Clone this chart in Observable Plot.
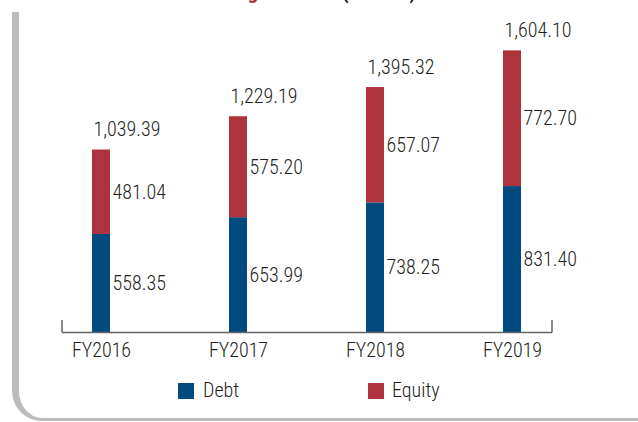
<!DOCTYPE html>
<html>
<head>
<meta charset="utf-8">
<script src="https://cdn.jsdelivr.net/npm/d3@7"></script>
<script src="https://cdn.jsdelivr.net/npm/@observablehq/plot@0.6"></script>
<style>
  html, body { margin: 0; padding: 0; background: #fff; }
  body { width: 638px; height: 422px; position: relative; overflow: hidden;
         font-family: "Roboto Condensed", "Liberation Sans Narrow", "DejaVu Sans Condensed", sans-serif; font-stretch: condensed; font-weight: 300; color: #231f20; }
  #frame { position: absolute; left: 12px; top: 12px; right: -20px; height: 406px;
           border-left: 7px solid #bcbcbc; border-bottom: 3px solid #bcbcbc;
           border-bottom-left-radius: 30px; }
  #title { position: absolute; top: -18px; left: 0; width: 638px; height: 24px;
           font-size: 21px; font-weight: bold; line-height: 21px; white-space: nowrap; }
  #title span { position: absolute; top: 0; }
  #chart { position: absolute; left: 0; top: 0; }
  #legend { position: absolute; left: 0; top: 370px; width: 638px; height: 52px; font-size: 20px; }
  .sw { position: absolute; width: 16px; height: 16px; top: 13px; }
  .lt { position: absolute; top: 9px; line-height: 22px; }
</style>
</head>
<body>
<div id="frame"></div>
<div id="title"><span style="right:380px;color:#ad343c">Funding</span><span style="left:264px;color:#231f20">Pattern</span><span style="left:342px;color:#231f20">(₹ Crore)</span></div>
<div id="chart"></div>
<div id="legend"></div>
<script>
const years = ["FY2016", "FY2017", "FY2018", "FY2019"];
const debt = [558.35, 653.99, 738.25, 831.40];
const equity = [481.04, 575.20, 657.07, 772.70];
const totals = [1039.39, 1229.19, 1395.32, 1604.10];
const seriesNames = ["Debt", "Equity"];
const seriesColors = ["#014a80", "#ad343c"];

const rows = [
  ...years.map((y, i) => ({year: y, type: "Debt", value: debt[i]})),
  ...years.map((y, i) => ({year: y, type: "Equity", value: equity[i]}))
];
const totalRows = years.map((y, i) => ({year: y, total: totals[i]}));
const fmt = d3.format(",.2f");
const FONT = "'Roboto Condensed', 'Liberation Sans Narrow', 'DejaVu Sans Condensed', sans-serif";

const bw = 18;
const endTicks = (index, scales, values, dims) => {
  const g = d3.create("svg:g");
  const y0 = dims.height - dims.marginBottom;
  const xs = [dims.marginLeft, dims.width - dims.marginRight];
  for (const x of xs) {
    g.append("line").attr("x1", x).attr("x2", x).attr("y1", y0 - 12).attr("y2", y0 + 0.5)
      .attr("stroke", "#666").attr("stroke-width", 1.5);
  }
  return g.node();
};

const chart = Plot.plot({
  width: 638,
  height: 370,
  marginLeft: 62,
  marginRight: 86,
  marginTop: 16,
  marginBottom: 38,
  style: {background: "transparent", fontFamily: FONT, fontSize: "20px", color: "#231f20", fontStretch: "condensed", fontWeight: 300},
  x: {domain: years, paddingInner: 0.865, paddingOuter: 0.22, label: null, tickSize: 0, tickPadding: 10},
  y: {domain: [0, 1800], axis: null},
  color: {domain: seriesNames, range: seriesColors},
  marks: [
    Plot.barY(rows, Plot.stackY({x: "year", y: "value", fill: "type"})),
    Plot.text(rows, Plot.stackY({x: "year", y: "value", z: "type", text: d => fmt(d.value),
      textAnchor: "start", dx: bw / 2 + 2, fill: "#231f20", fontSize: 20, fontWeight: 300})),
    Plot.text(totalRows, {x: "year", y: "total", text: d => fmt(d.total),
      textAnchor: "start", dx: -bw / 2 + 1, dy: -20, fill: "#231f20", fontSize: 20, fontWeight: 300}),
    Plot.ruleY([0], {stroke: "#666", strokeWidth: 1.5}),
    endTicks
  ]
});
document.getElementById("chart").appendChild(chart);

const legend = document.getElementById("legend");
const lx = [[178, 203], [368, 392]];
seriesNames.forEach((name, i) => {
  const sw = document.createElement("div");
  sw.className = "sw"; sw.style.left = lx[i][0] + "px"; sw.style.background = seriesColors[i];
  const t = document.createElement("div");
  t.className = "lt"; t.style.left = lx[i][1] + "px"; t.textContent = name;
  legend.appendChild(sw); legend.appendChild(t);
});
</script>
</body>
</html>
